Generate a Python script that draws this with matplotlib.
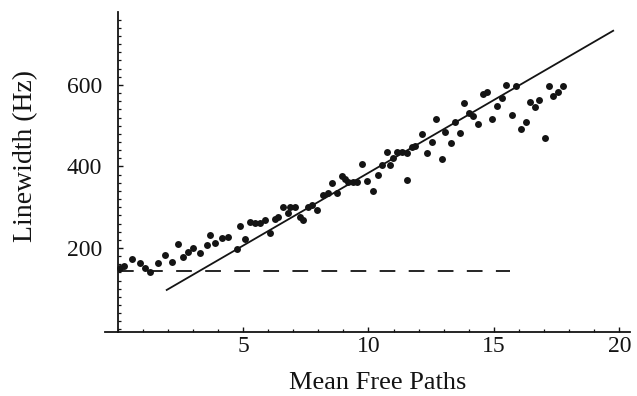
import matplotlib
matplotlib.use("Agg")
import matplotlib.pyplot as plt
from matplotlib.ticker import MultipleLocator, FixedLocator

# ---- data ----
x_data = [0.10, 0.26, 0.58, 0.90, 1.10, 1.29, 1.61, 1.89, 2.17, 2.41,
          2.61, 2.81, 3.01, 3.29, 3.57, 3.69, 3.88, 4.16, 4.40, 4.76,
          4.88, 5.08, 5.28, 5.48, 5.68, 5.88, 6.08, 6.27, 6.39, 6.59,
          6.79, 6.87, 7.07, 7.27, 7.39, 7.59, 7.75, 7.95, 8.19, 8.39,
          8.55, 8.75, 8.94, 9.06, 9.18, 9.38, 9.54, 9.74, 9.94, 10.18,
          10.38, 10.54, 10.74, 10.86, 10.98, 11.14, 11.33, 11.53, 11.53, 11.73,
          11.85, 12.13, 12.33, 12.53, 12.69, 12.93, 13.05, 13.29, 13.45, 13.65,
          13.80, 14.00, 14.16, 14.36, 14.56, 14.72, 14.92, 15.12, 15.32, 15.48,
          15.72, 15.88, 16.08, 16.27, 16.43, 16.63, 16.79, 17.03, 17.19, 17.35,
          17.55, 17.75]
y_data = [151, 156, 173, 163, 151, 141, 163, 183, 166, 210,
          178, 190, 200, 188, 207, 232, 212, 225, 227, 198,
          254, 222, 264, 261, 261, 269, 237, 271, 276, 301,
          286, 301, 301, 276, 269, 301, 306, 293, 330, 335,
          359, 336, 377, 369, 362, 362, 362, 405, 364, 341,
          379, 404, 435, 404, 420, 435, 435, 432, 367, 448,
          450, 480, 432, 460, 517, 418, 485, 458, 509, 482,
          556, 532, 523, 504, 577, 582, 516, 548, 567, 600,
          527, 597, 492, 509, 558, 546, 563, 470, 597, 573,
          582, 598]

fit_x = [1.96, 19.75]
fit_y = [97, 733]

base_x = [0, 15.64]
base_y = [144, 144]

x_ticks = [5, 10, 15, 20]
y_ticks = [200, 400, 600]

# ---- figure ----
fig = plt.figure(figsize=(6.37, 3.96), dpi=100)
ax = fig.add_axes([0.1648, 0.1624, 0.8242, 0.8073])

ink = "#141414"
ax.plot(x_data, y_data, linestyle="none", marker="o", markersize=5.0,
        color=ink, markeredgewidth=0)
ax.plot(fit_x, fit_y, color=ink, linewidth=1.3)
ax.plot(base_x, base_y, color=ink, linewidth=1.3, dashes=(8.7, 7.4))

ax.set_xlim(-0.5, 20.42)
ax.set_ylim(-5.4, 779)

for s in ["top", "right"]:
    ax.spines[s].set_visible(False)
ax.spines["left"].set_position(("data", 0))
ax.spines["left"].set_linewidth(1.3)
ax.spines["bottom"].set_linewidth(1.3)
ax.spines["left"].set_color(ink)
ax.spines["bottom"].set_color(ink)

ax.xaxis.set_major_locator(FixedLocator(x_ticks))
ax.xaxis.set_minor_locator(MultipleLocator(1))
ax.yaxis.set_major_locator(FixedLocator(y_ticks))
ax.yaxis.set_minor_locator(MultipleLocator(20))

serif = ["Liberation Serif", "DejaVu Serif"]
ax.tick_params(axis="both", which="major", direction="in", length=3.5,
               width=1.0, color=ink, labelcolor=ink, labelsize=17)
ax.tick_params(axis="both", which="minor", direction="in", length=2,
               width=0.9, color=ink)
ax.tick_params(axis="x", which="major", pad=3)
ax.tick_params(axis="y", which="major", pad=11)
for lab in ax.get_xticklabels() + ax.get_yticklabels():
    lab.set_family(serif)

fig.text(0.593, 0.032, "Mean Free Paths", ha="center", va="center",
         fontsize=19, family=serif, color=ink)
fig.text(0.040, 0.605, "Linewidth (Hz)", ha="center", va="center",
         rotation=90, fontsize=20, family=serif, color=ink)

fig.savefig("out.png", dpi=100, facecolor="white")
